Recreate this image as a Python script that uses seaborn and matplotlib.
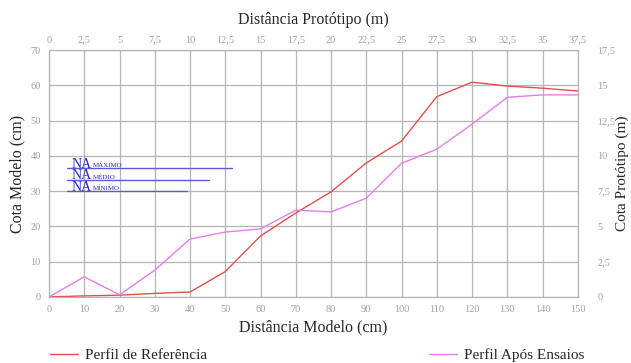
import matplotlib
matplotlib.use("Agg")
import matplotlib.pyplot as plt
import seaborn as sns
import pandas as pd
from matplotlib.lines import Line2D

# ---- data (model units, cm) ----
dist_cm = [0, 10, 20, 30, 40, 50, 60, 70, 80, 90, 100, 110, 120, 130, 140, 150]
perfil_referencia = [0, 0.3, 0.5, 1.0, 1.4, 7.2, 17.3, 23.8, 29.8, 38.0, 44.2, 56.8, 60.9, 59.8, 59.2, 58.4]
perfil_apos = [0, 5.7, 0.6, 7.6, 16.4, 18.4, 19.3, 24.6, 24.1, 28.0, 37.9, 41.9, 49.0, 56.6, 57.3, 57.3]

na_labels = ["MÁXIMO", "MÉDIO", "MÍNIMO"]
na_levels = [36.5, 33.2, 30.0]
na_x_end = [51.8, 45.3, 39.0]
na_x_start = 5.0

x_ticks_cm = list(range(0, 151, 10))
y_ticks_cm = list(range(0, 71, 10))
top_tick_labels = ["0", "2,5", "5", "7,5", "10", "12,5", "15", "17,5", "20", "22,5",
                   "25", "27,5", "30", "32,5", "35", "37,5"]
right_tick_labels = ["0", "2,5", "5", "7,5", "10", "12,5", "15", "17,5"]
scale = 0.25  # prototype m per model cm

sns.set_style("white")
plt.rcParams['font.family'] = ['Liberation Serif', 'DejaVu Serif']

fig = plt.figure(figsize=(6.31, 3.63), dpi=100)
ax = fig.add_axes([0.0777, 0.182, 0.838, 0.680])

df = pd.DataFrame({"x": dist_cm, "ref": perfil_referencia, "apos": perfil_apos})
red = "#e3504c"
pink = "#e57ee8"
sns.lineplot(data=df, x="x", y="ref", ax=ax, color=red, lw=1.0)
sns.lineplot(data=df, x="x", y="apos", ax=ax, color=pink, lw=1.0)

ax.set_xlim(0, 150)
ax.set_ylim(0, 70)
ax.set_xticks(x_ticks_cm)
ax.set_yticks(y_ticks_cm)
ax.grid(True, color="#b5b5b5", lw=0.9)
ax.set_axisbelow(True)
tick_col = "#a0a0a0"
ax.tick_params(axis="both", length=0, labelsize=7.5, colors=tick_col, pad=6)
for s in ax.spines.values():
    s.set_color("#b5b5b5")
    s.set_linewidth(0.9)
ax.set_xlabel("Distância Modelo (cm)", fontsize=11.5, labelpad=4)
ax.set_ylabel("Cota Modelo (cm)", fontsize=11.5)
ax.yaxis.set_label_coords(-0.044, 0.5)

# top axis (prototype distance)
axt = ax.twiny()
axt.set_xlim(0, 150 * scale)
axt.set_xticks([i * 2.5 for i in range(len(top_tick_labels))])
axt.set_xticklabels(top_tick_labels)
axt.tick_params(axis="x", length=0, labelsize=7.5, colors=tick_col, pad=4)
axt.set_xlabel("Distância Protótipo (m)", fontsize=11.5, labelpad=8)
for s in axt.spines.values():
    s.set_visible(False)

# right axis (prototype elevation)
axr = ax.twinx()
axr.set_ylim(0, 70 * scale)
axr.set_yticks([i * 2.5 for i in range(len(right_tick_labels))])
axr.set_yticklabels(right_tick_labels)
axr.tick_params(axis="y", length=0, labelsize=7.5, colors=tick_col, pad=14)
axr.set_ylabel("Cota Protótipo (m)", fontsize=11)
axr.yaxis.set_label_coords(1.071, 0.5)
for s in axr.spines.values():
    s.set_visible(False)

# water level markers
for lab, lvl, xe in zip(na_labels, na_levels, na_x_end):
    ax.plot([na_x_start, xe], [lvl, lvl], color="#5a5ad8", lw=1.0, zorder=3)
    ax.text(6.5, lvl + 0.15, "NA", color="#2a2ac0", fontsize=10, va="baseline", ha="left")
    ax.text(12.3, lvl + 0.3, lab, color="#2a2ac0", fontsize=5, va="baseline", ha="left")

handles = [Line2D([], [], color=red, lw=1.0), Line2D([], [], color=pink, lw=1.0)]
fig.legend(handles, ["Perfil de Referência", "Perfil Após Ensaios"], loc="lower left",
           bbox_to_anchor=(0.058, -0.035), ncol=2, frameon=False, fontsize=11,
           columnspacing=14.5, handlelength=1.8, handletextpad=0.5)

fig.savefig("out.png", dpi=100)
